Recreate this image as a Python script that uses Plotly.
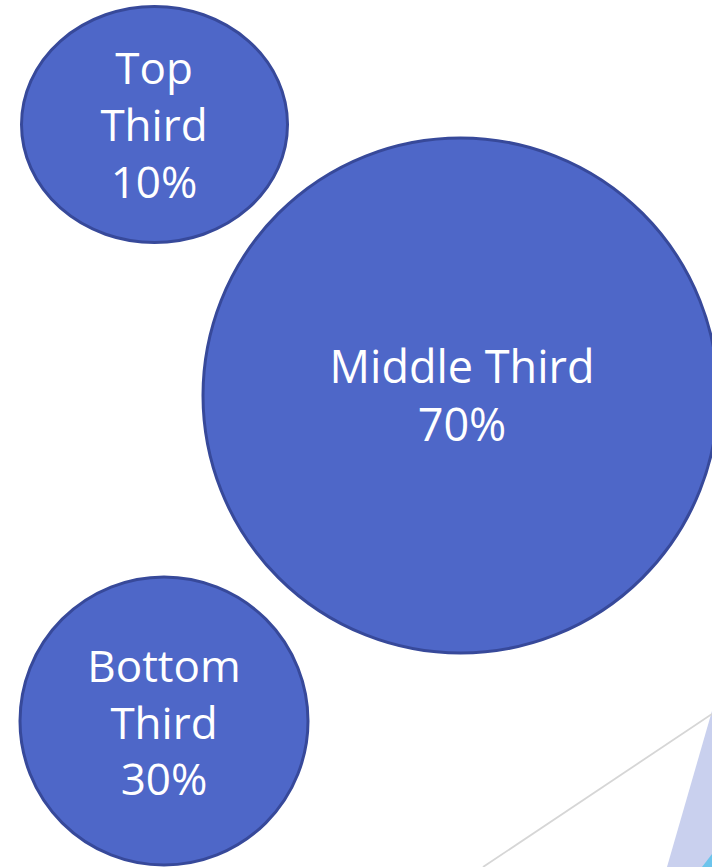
import plotly.graph_objects as go

# ---- data ----
labels = ["Top Third", "Middle Third", "Bottom Third"]
values = [10, 70, 30]
line_breaks = [True, False, True]  # break label into words

# ---- layout geometry (pixels, y downward) ----
W, H = 712, 867
centers_x = [154.5, 460.5, 164]
centers_y = [124.5, 395.5, 721]
radii_x = [133, 257.5, 144]
radii_y = [118, 257.5, 144]
text_x = [154, 462, 164]
text_y0 = [73, 372, 671]
line_gap = [57, 58, 56.5]
font_sizes = [44, 45, 44]
font_family = ["Open Sans", "Open Sans", "Open Sans"]

FILL = "#4E67C8"
EDGE = "#37499A"

fig = go.Figure()
shapes = []
for cx, cy, rx, ry in zip(centers_x, centers_y, radii_x, radii_y):
    shapes.append(dict(type="circle", xref="x", yref="y",
                       x0=cx - rx, x1=cx + rx, y0=cy - ry, y1=cy + ry,
                       fillcolor=FILL, line=dict(color=EDGE, width=3),
                       layer="below"))

# decorative slide elements (bottom-right)
shapes.append(dict(type="path", xref="x", yref="y",
                   path="M 712 711 L 667 867 L 712 867 Z",
                   fillcolor="#C9D0EE", line=dict(width=0), layer="below"))
shapes.append(dict(type="path", xref="x", yref="y",
                   path="M 712 854 L 702 867 L 712 867 Z",
                   fillcolor="#6CC4EC", line=dict(width=0), layer="below"))
shapes.append(dict(type="line", xref="x", yref="y",
                   x0=483, y0=867, x1=712, y1=714,
                   line=dict(color="#D6D6D6", width=1.8), layer="below"))

for i, (lab, val) in enumerate(zip(labels, values)):
    parts = lab.split(" ") if line_breaks[i] else [lab]
    parts = parts + [f"{val}%"]
    ys = [text_y0[i] + k * line_gap[i] for k in range(len(parts))]
    fig.add_trace(go.Scatter(
        x=[text_x[i]] * len(parts), y=ys, mode="text", text=parts,
        textposition="middle center",
        textfont=dict(family=font_family[i], size=font_sizes[i], color="white"),
        hoverinfo="skip", showlegend=False))

fig.update_layout(
    width=W, height=H, margin=dict(l=0, r=0, t=0, b=0),
    paper_bgcolor="white", plot_bgcolor="white",
    shapes=shapes, showlegend=False,
    xaxis=dict(range=[0, W], visible=False, fixedrange=True),
    yaxis=dict(range=[H, 0], visible=False, fixedrange=True),
)
fig.write_html("out.html")
